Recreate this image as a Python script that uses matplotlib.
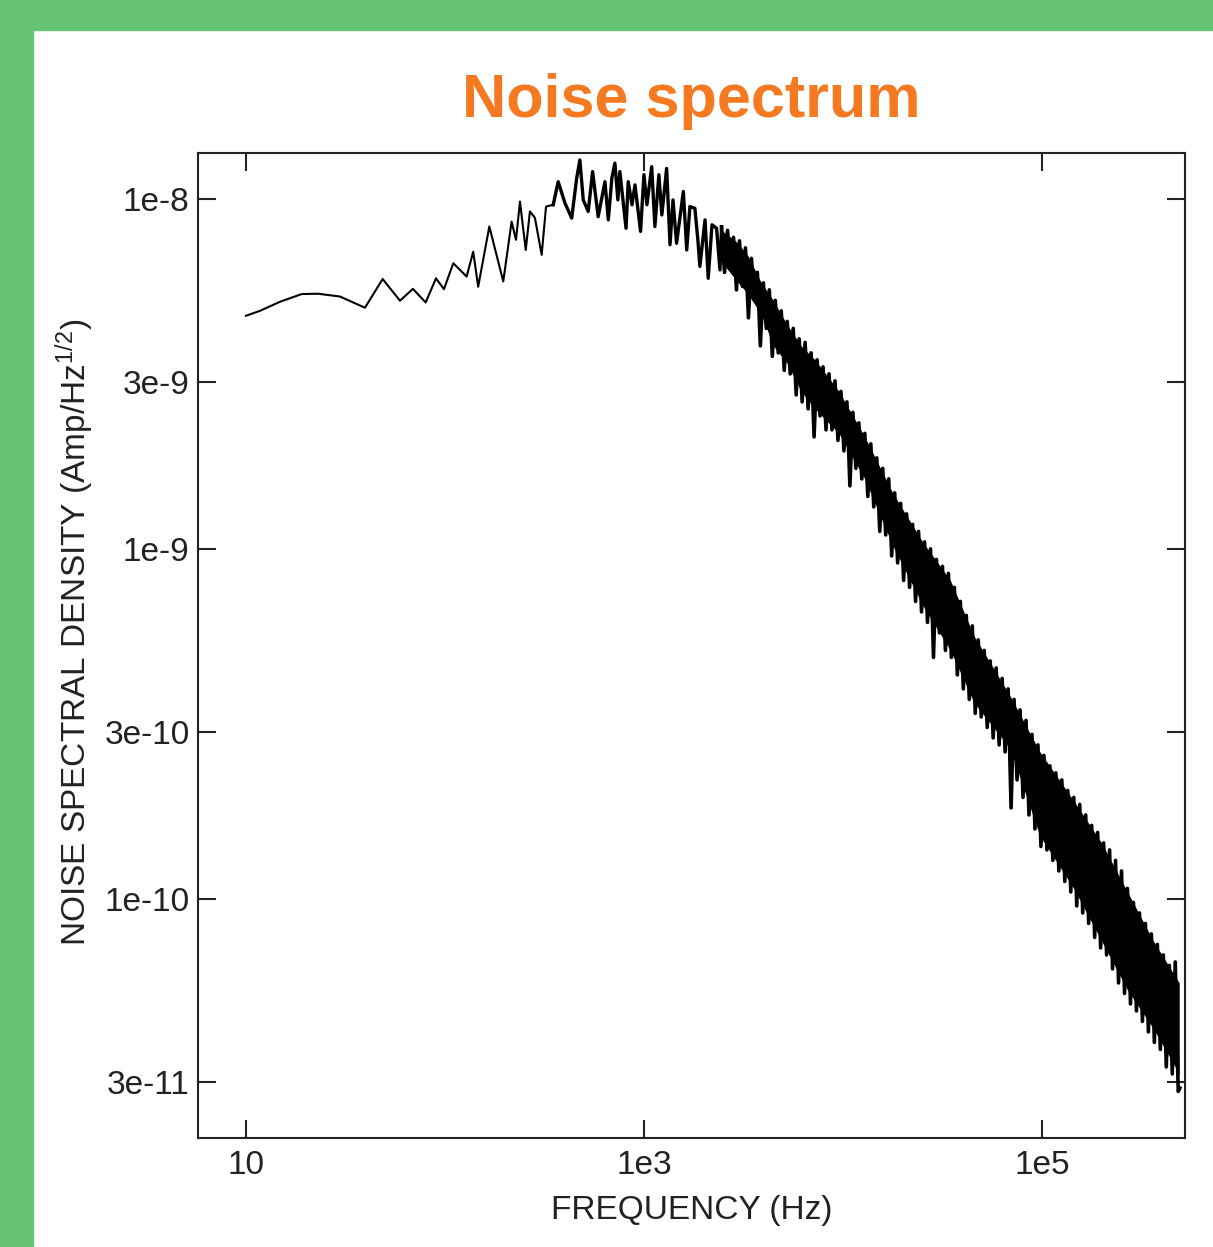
import numpy as np
import matplotlib
matplotlib.use("Agg")
import matplotlib.pyplot as plt
from matplotlib.patches import Rectangle
from matplotlib.ticker import FixedLocator, FixedFormatter, NullLocator

plt.rcParams['font.family'] = ['Liberation Sans', 'DejaVu Sans']
plt.rcParams['mathtext.fontset'] = 'custom'
plt.rcParams['mathtext.rm'] = 'Liberation Sans'
plt.rcParams['mathtext.it'] = 'Liberation Sans:italic'

# spectrum, in decades (log10 Hz, log10 Amp/Hz^1/2)
# sparse low-frequency part
low_log_freq = [1.000, 1.070, 1.171, 1.280, 1.362, 1.472, 1.598, 1.687, 1.774, 1.839,
                1.903, 1.955, 1.995, 2.042, 2.109, 2.142, 2.167, 2.223, 2.293, 2.335,
                2.357, 2.377, 2.406, 2.427, 2.452, 2.486, 2.508, 2.544]
low_log_psd = [-8.334, -8.320, -8.294, -8.272, -8.271, -8.279, -8.311, -8.229, -8.291, -8.257,
               -8.296, -8.227, -8.258, -8.184, -8.222, -8.151, -8.251, -8.079, -8.236, -8.065,
               -8.117, -8.008, -8.146, -8.036, -8.054, -8.160, -8.022, -8.017]

# dense part around the peak
peak_log_freq = [2.544, 2.569, 2.603, 2.637, 2.662, 2.678, 2.695, 2.720, 2.742, 2.770,
                 2.804, 2.821, 2.839, 2.854, 2.869, 2.879, 2.910, 2.921, 2.940, 2.955,
                 2.983, 3.000, 3.015, 3.039, 3.055, 3.075, 3.090, 3.114, 3.131, 3.146,
                 3.164, 3.198, 3.215, 3.231, 3.256, 3.271, 3.281, 3.307, 3.323, 3.342,
                 3.365, 3.382]
peak_log_psd = [-8.017, -7.951, -8.012, -8.055, -7.941, -7.889, -8.003, -8.036, -7.922, -8.051,
                -7.951, -8.060, -7.940, -7.898, -8.003, -7.922, -8.084, -7.951, -8.017, -7.960,
                -8.093, -7.931, -8.017, -7.908, -8.079, -7.931, -8.046, -7.913, -8.131, -8.003,
                -8.127, -7.979, -8.146, -8.022, -8.027, -8.117, -8.193, -8.060, -8.227, -8.074,
                -8.084, -8.203]

# 1/f roll-off: individual samples
high_log_freq = [3.390, 3.405, 3.420, 3.435, 3.450, 3.465, 3.480, 3.495, 3.510, 3.525,
                 3.540, 3.555, 3.570, 3.585, 3.600, 3.615, 3.630, 3.645, 3.660, 3.675,
                 3.690, 3.705, 3.720, 3.735, 3.750, 3.765, 3.780, 3.795, 3.810, 3.825,
                 3.840, 3.855, 3.870, 3.885, 3.900, 3.915, 3.930, 3.945, 3.960, 3.975,
                 3.990, 4.005, 4.020, 4.035, 4.050, 4.065, 4.080, 4.095, 4.110, 4.125,
                 4.140, 4.155, 4.170, 4.185, 4.200, 4.215, 4.230, 4.245, 4.260, 4.275,
                 4.290, 4.305, 4.320, 4.335, 4.350, 4.365, 4.380, 4.395, 4.410, 4.425,
                 4.440, 4.455, 4.470, 4.485, 4.500, 4.515, 4.530, 4.545, 4.560, 4.575,
                 4.590, 4.605, 4.620, 4.635, 4.650, 4.665, 4.680, 4.695, 4.710, 4.725,
                 4.740, 4.755, 4.770, 4.785, 4.800, 4.815, 4.830, 4.845, 4.860, 4.875,
                 4.890, 4.905, 4.920, 4.935, 4.950, 4.965, 4.980, 4.995, 5.010, 5.025,
                 5.040, 5.055, 5.070, 5.085, 5.100, 5.115, 5.130, 5.145, 5.160, 5.175,
                 5.190, 5.205, 5.220, 5.235, 5.250, 5.265, 5.280, 5.295, 5.310, 5.325,
                 5.340, 5.355, 5.370, 5.385, 5.400, 5.415, 5.430, 5.445, 5.460, 5.475,
                 5.490, 5.505, 5.520, 5.535, 5.550, 5.565, 5.580, 5.595, 5.610, 5.625,
                 5.640, 5.655, 5.670, 5.685, 5.693]
high_log_psd = [-8.08, -8.21, -8.09, -8.19, -8.11, -8.26, -8.12, -8.25, -8.14, -8.34,
                -8.17, -8.29, -8.21, -8.42, -8.24, -8.37, -8.26, -8.45, -8.29, -8.44,
                -8.32, -8.49, -8.35, -8.50, -8.37, -8.56, -8.40, -8.58, -8.41, -8.60,
                -8.44, -8.68, -8.46, -8.62, -8.48, -8.66, -8.50, -8.66, -8.52, -8.69,
                -8.55, -8.72, -8.58, -8.82, -8.61, -8.77, -8.64, -8.80, -8.67, -8.85,
                -8.70, -8.88, -8.74, -8.95, -8.77, -8.96, -8.80, -9.02, -8.84, -9.04,
                -8.87, -9.09, -8.90, -9.11, -8.93, -9.15, -8.95, -9.18, -8.98, -9.21,
                -9.00, -9.31, -9.03, -9.24, -9.05, -9.29, -9.07, -9.31, -9.11, -9.36,
                -9.15, -9.40, -9.19, -9.43, -9.22, -9.47, -9.26, -9.48, -9.29, -9.51,
                -9.32, -9.54, -9.34, -9.56, -9.37, -9.58, -9.40, -9.74, -9.43, -9.66,
                -9.46, -9.71, -9.49, -9.76, -9.53, -9.80, -9.56, -9.85, -9.59, -9.86,
                -9.62, -9.89, -9.64, -9.92, -9.66, -9.95, -9.69, -9.98, -9.71, -10.02,
                -9.73, -10.04, -9.76, -10.07, -9.79, -10.11, -9.81, -10.14, -9.84, -10.16,
                -9.86, -10.20, -9.89, -10.24, -9.92, -10.27, -9.97, -10.30, -10.01, -10.32,
                -10.04, -10.35, -10.07, -10.38, -10.10, -10.41, -10.13, -10.43, -10.16, -10.48,
                -10.19, -10.50, -10.18, -10.55, -10.54]

# solid core of the band (where the samples are too dense to separate)
band_log_freq = [3.39, 3.46, 3.52, 3.59, 3.65, 3.72, 3.79, 3.86, 3.98, 4.11, 4.25,
                 4.40, 4.54, 4.66, 4.84, 4.99, 5.16, 5.30, 5.43, 5.56, 5.69]
band_top = [-8.09, -8.12, -8.16, -8.24, -8.29, -8.36, -8.42, -8.46, -8.55, -8.68, -8.84,
            -8.98, -9.09, -9.25, -9.42, -9.58, -9.72, -9.84, -9.98, -10.12, -10.24]
band_bottom = [-8.18, -8.23, -8.27, -8.33, -8.42, -8.47, -8.55, -8.60, -8.67, -8.80, -8.99,
               -9.16, -9.29, -9.44, -9.57, -9.82, -9.97, -10.12, -10.26, -10.37, -10.50]

x_ticks = [10, 1e3, 1e5]
x_tick_labels = ['10', '1e3', '1e5']
y_ticks = [1e-8, 3e-9, 1e-9, 3e-10, 1e-10, 3e-11]
y_tick_labels = ['1e-8', '3e-9', '1e-9', '3e-10', '1e-10', '3e-11']
x_range = [0.759, 5.719]
y_range = [-10.683, -7.869]

fig = plt.figure(figsize=(12.13, 12.47), dpi=100)
fig.patch.set_facecolor('white')
# green slide frame
fig.patches.append(Rectangle((0, 0), 33 / 1213, 1, transform=fig.transFigure,
                             color='#66C375', zorder=0))
fig.patches.append(Rectangle((0, 1 - 30 / 1247), 1, 30 / 1247, transform=fig.transFigure,
                             color='#66C375', zorder=0))

ax = fig.add_axes([198 / 1213, 1 - 1138 / 1247, 987 / 1213, 985 / 1247])
ax.plot(10 ** np.array(low_log_freq), 10 ** np.array(low_log_psd), color='black', lw=1.5)
ax.plot(10 ** np.array(peak_log_freq + high_log_freq[:1]),
        10 ** np.array(peak_log_psd + high_log_psd[:1]), color='black', lw=2.4)
ax.fill_between(10 ** np.array(band_log_freq), 10 ** np.array(band_bottom),
                10 ** np.array(band_top), color='black', lw=0)
ax.plot(10 ** np.array(high_log_freq), 10 ** np.array(high_log_psd), color='black', lw=2.6)
ax.set_xscale('log')
ax.set_yscale('log')
ax.set_xlim(10 ** x_range[0], 10 ** x_range[1])
ax.set_ylim(10 ** y_range[0], 10 ** y_range[1])

ax.xaxis.set_major_locator(FixedLocator(x_ticks))
ax.xaxis.set_major_formatter(FixedFormatter(x_tick_labels))
ax.yaxis.set_major_locator(FixedLocator(y_ticks))
ax.yaxis.set_major_formatter(FixedFormatter(y_tick_labels))
ax.xaxis.set_minor_locator(NullLocator())
ax.yaxis.set_minor_locator(NullLocator())

ax.tick_params(which='major', direction='in', length=13, width=1.5,
               top=True, right=True, labelsize=24, colors='#222222')
ax.tick_params(axis='x', pad=9)
ax.tick_params(axis='y', pad=6)
for s in ax.spines.values():
    s.set_linewidth(1.5)
    s.set_color('#222222')

ax.set_xlabel('FREQUENCY (Hz)', fontsize=24, color='#222222', labelpad=10)
ax.set_ylabel(r'NOISE SPECTRAL DENSITY (Amp/Hz$^{\mathregular{1/2}}$)', fontsize=24,
              color='#222222')
ax.yaxis.set_label_coords(-0.103, 0.513)

fig.text(691 / 1213, 1 - 117 / 1247, 'Noise spectrum', ha='center', va='baseline',
         fontsize=44, fontweight='bold', color='#F47920')

fig.savefig('out.png', dpi=100)
